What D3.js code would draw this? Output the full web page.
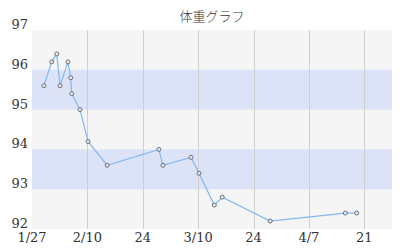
<!DOCTYPE html>
<html>
<head>
<meta charset="utf-8">
<script src="https://cdn.jsdelivr.net/npm/d3@7"></script>
<style>
  body { margin: 0; background: #fff; }
  .lbl { font-family: "DejaVu Serif", "Liberation Serif", serif; }
  .ttl { font-family: "Noto Sans CJK JP", sans-serif; font-weight: 300; }
</style>
</head>
<body>
<div id="chart"></div>
<script>
// weight records (date, kg)
const dates = [
  "2023-01-30T00:00", "2023-02-01T00:00", "2023-02-02T06:00", "2023-02-03T02:00",
  "2023-02-05T02:00", "2023-02-05T19:00", "2023-02-06T01:00", "2023-02-08T03:00",
  "2023-02-10T04:00", "2023-02-15T00:00", "2023-02-28T02:00", "2023-03-01T02:00",
  "2023-03-08T05:00", "2023-03-10T05:00", "2023-03-14T02:00", "2023-03-16T02:00",
  "2023-03-28T05:00", "2023-04-16T05:00", "2023-04-19T02:00"
];
const weights = [
  95.6, 96.2, 96.4, 95.6,
  96.2, 95.8, 95.4, 95.0,
  94.2, 93.6, 94.0, 93.6,
  93.8, 93.4, 92.6, 92.8,
  92.2, 92.4, 92.4
];

const title = "体重グラフ";
const xStart = "2023-01-27", xEnd = "2023-04-28";
const yTicks = [92, 93, 94, 95, 96, 97];
const xTickDates = ["2023-01-27", "2023-02-10", "2023-02-24", "2023-03-10", "2023-03-24", "2023-04-07", "2023-04-21"];
const xTickLabels = ["1/27", "2/10", "24", "3/10", "24", "4/7", "21"];
const blueBands = [[93, 94], [95, 96]];

const W = 400, H = 250;
const margin = {top: 30, right: 8, bottom: 21, left: 32};
const pw = W - margin.left - margin.right;
const ph = H - margin.top - margin.bottom;

const parse = d3.timeParse("%Y-%m-%dT%H:%M");
const parseDay = d3.timeParse("%Y-%m-%d");
const data = dates.map((d, i) => ({date: parse(d), w: weights[i]}));

const svg = d3.select("#chart").append("svg")
    .attr("width", W)
    .attr("height", H);

const g = svg.append("g").attr("transform", `translate(${margin.left},${margin.top})`);

const x = d3.scaleTime()
    .domain([parseDay(xStart), parseDay(xEnd)])
    .range([0, pw]);
const y = d3.scaleLinear()
    .domain([92, 97])
    .range([ph, 0]);

// background
g.append("rect")
    .attr("width", pw)
    .attr("height", ph)
    .attr("fill", "#f5f5f5");

// blue stripes
g.selectAll("rect.band")
    .data(blueBands)
    .enter().append("rect")
    .attr("class", "band")
    .attr("x", 0)
    .attr("width", pw)
    .attr("y", d => y(d[1]))
    .attr("height", d => y(d[0]) - y(d[1]))
    .attr("fill", "#dde3f6");

// vertical grid
const xt = xTickDates.map(parseDay);
g.selectAll("line.vgrid")
    .data(xt.slice(1))
    .enter().append("line")
    .attr("class", "vgrid")
    .attr("x1", d => Math.round(x(d)) + 0.5)
    .attr("x2", d => Math.round(x(d)) + 0.5)
    .attr("y1", 0)
    .attr("y2", ph)
    .attr("stroke", "#cfcfcf")
    .attr("stroke-width", 1);

// x labels
g.selectAll("text.xl")
    .data(xt)
    .enter().append("text")
    .attr("class", "xl lbl")
    .attr("x", d => x(d))
    .attr("y", ph + 13)
    .attr("text-anchor", "middle")
    .attr("font-size", 13)
    .attr("fill", "#333")
    .text((d, i) => xTickLabels[i]);

// y labels
g.selectAll("text.yl")
    .data(yTicks)
    .enter().append("text")
    .attr("class", "yl lbl")
    .attr("x", -4)
    .attr("y", d => y(d) - 1)
    .attr("text-anchor", "end")
    .attr("font-size", 13)
    .attr("fill", "#333")
    .text(d => d);

// line
const line = d3.line()
    .x(d => x(d.date))
    .y(d => y(d.w));

g.append("path")
    .datum(data)
    .attr("d", line)
    .attr("fill", "none")
    .attr("stroke", "#80b8f4")
    .attr("stroke-width", 1.2);

g.selectAll("circle")
    .data(data)
    .enter().append("circle")
    .attr("cx", d => x(d.date))
    .attr("cy", d => y(d.w))
    .attr("r", 2)
    .attr("fill", "#dfe8f8")
    .attr("stroke", "#555")
    .attr("stroke-width", 0.8);

// title
svg.append("text")
    .attr("class", "ttl")
    .attr("x", margin.left + pw / 2)
    .attr("y", 21)
    .attr("text-anchor", "middle")
    .attr("font-size", 13)
    .attr("fill", "#333")
    .text(title);
</script>
</body>
</html>
